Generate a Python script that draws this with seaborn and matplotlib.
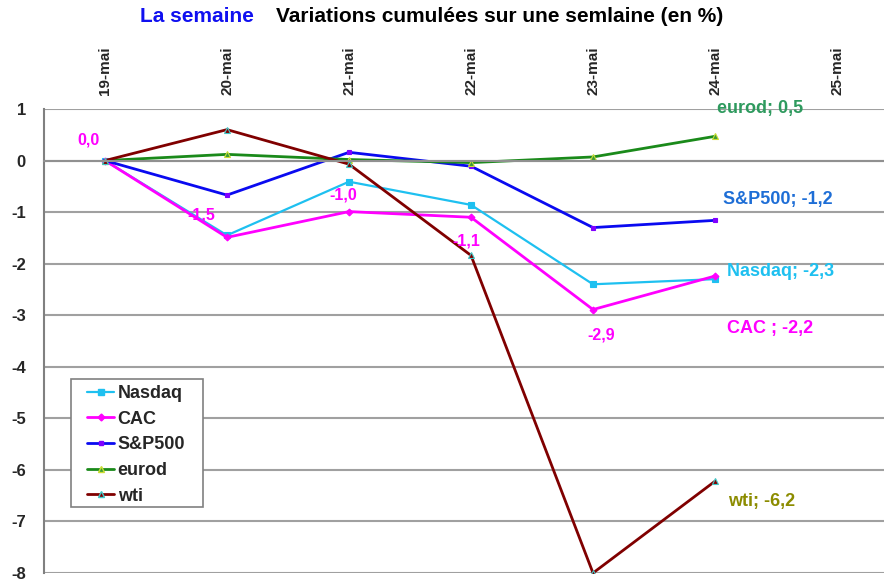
import numpy as np
import pandas as pd
import matplotlib
matplotlib.use("Agg")
import matplotlib.pyplot as plt
import seaborn as sns
from matplotlib.patches import Rectangle

# Data (cumulative % change)
days = ["19-mai", "20-mai", "21-mai", "22-mai", "23-mai", "24-mai", "25-mai"]
nasdaq = [0.0, -1.45, -0.41, -0.86, -2.40, -2.30]
cac = [0.0, -1.49, -0.99, -1.10, -2.89, -2.24]
sp500 = [0.0, -0.67, 0.16, -0.11, -1.30, -1.16]
eurod = [0.0, 0.12, 0.02, -0.04, 0.07, 0.47]
wti = [0.0, 0.60, -0.07, -1.84, -8.0, -6.22]

series = ["Nasdaq", "CAC", "S&P500", "eurod", "wti"]
values = [nasdaq, cac, sp500, eurod, wti]

sns.set_style("white")
plt.rcParams["font.family"] = ["Liberation Sans", "DejaVu Sans"]
plt.rcParams["font.weight"] = "bold"

fig = plt.figure(figsize=(8.84, 5.82), dpi=100)
ax = fig.add_axes([44 / 884, 1 - 573 / 582, 854 / 884, 464 / 582])

styles = {
    "Nasdaq": dict(color="#1EC0F0", marker="s", markersize=5, mfc="#1EC0F0", mec="#1EC0F0", lw=1.6),
    "CAC": dict(color="#FF00FF", marker="D", markersize=3.5, mfc="#FF00FF", mec="#FF00FF", lw=2.0),
    "S&P500": dict(color="#0A0AF0", marker="s", markersize=3.5, mfc="#8000FF", mec="#8000FF", lw=2.0),
    "eurod": dict(color="#1A8A1A", marker="^", markersize=4.5, mfc="#3A9A3A", mec="#CCDD33", lw=2.0),
    "wti": dict(color="#800000", marker="^", markersize=4.5, mfc="#800000", mec="#40C8C8", lw=2.0),
}

rows = []
for name, vals in zip(series, values):
    for i, v in enumerate(vals):
        rows.append({"serie": name, "jour": i, "val": v})
df = pd.DataFrame(rows)

handles = []
for name in series:
    sub = df[df["serie"] == name]
    st = styles[name]
    sns.lineplot(data=sub, x="jour", y="val", ax=ax, color=st["color"], lw=st["lw"],
                 marker=st["marker"], markersize=st["markersize"],
                 markerfacecolor=st["mfc"], markeredgecolor=st["mec"], markeredgewidth=0.8)
    handles.append(plt.Line2D([], [], color=st["color"], lw=st["lw"], marker=st["marker"],
                              markersize=st["markersize"], markerfacecolor=st["mfc"],
                              markeredgecolor=st["mec"]))

ax.set_xlim(-0.5, len(days) - 0.5)
ax.set_ylim(-8, 1)
ax.set_xlabel("")
ax.set_ylabel("")

# grid and axes
ax.set_yticks(np.arange(-8, 2, 1))
ax.yaxis.grid(True, color="#A0A0A0", lw=1.5)
ax.set_axisbelow(True)
for s in ["top", "right"]:
    ax.spines[s].set_visible(False)
ax.spines["left"].set_color("#808080")
ax.spines["left"].set_linewidth(1.5)
ax.spines["bottom"].set_position(("data", 0))
ax.spines["bottom"].set_color("#909090")
ax.spines["bottom"].set_linewidth(1.5)
ax.set_xticks(np.arange(len(days)) + 0.5)
ax.tick_params(axis="x", direction="out", length=3, width=1, color="#606060", labelbottom=False)
ax.tick_params(axis="y", direction="out", length=4, width=1, color="#808080", pad=9,
               labelsize=12)
ax.set_yticklabels([str(t) for t in range(-8, 2)], fontweight="bold")

top = ax.secondary_xaxis("top")
top.set_xticks(np.arange(len(days)))
top.set_xticklabels(days, rotation=90, fontsize=11, fontweight="bold")
top.tick_params(length=0, pad=10)
top.spines["top"].set_visible(False)

# data labels (magenta CAC values)
cac_labels = [(0, "0,0", (-16, 21)), (1, "-1,5", (-26, 22)), (2, "-1,0", (-6, 17)),
              (3, "-1,1", (-5, -24)), (4, "-2,9", (8, -25))]
for i, txt, off in cac_labels:
    ax.annotate(txt, (i, cac[i]), xytext=off, textcoords="offset pixels",
                ha="center", va="center", color="#FF00FF", fontsize=11.5, fontweight="bold")

# series labels at the last point
last = len(nasdaq) - 1
end_labels = [
    ("eurod; 0,5", eurod[last], "#2E9A5E", (45, 28)),
    ("S&P500; -1,2", sp500[last], "#1E6ED6", (63, 21)),
    ("Nasdaq; -2,3", nasdaq[last], "#1EC0F0", (66, 8)),
    ("CAC ; -2,2", cac[last], "#FF00FF", (55, -52)),
    ("wti; -6,2", wti[last], "#8C8C00", (47, -20)),
]
for txt, v, col, off in end_labels:
    ax.annotate(txt, (last, v), xytext=off, textcoords="offset pixels",
                ha="center", va="center", color=col, fontsize=13, fontweight="bold")

# legend: frameless, with its own box drawn around it
leg = ax.legend(handles, series, loc="upper left", bbox_to_anchor=(43 / 854, 1 - 276 / 464),
                frameon=False, fontsize=13, handlelength=1.5,
                handletextpad=0.2, labelspacing=0.48, borderpad=0, borderaxespad=0)
for t in leg.get_texts():
    t.set_fontweight("bold")
ax.add_patch(Rectangle((27 / 854, 1 - 398 / 464), 132 / 854, 128 / 464, transform=ax.transAxes,
                       fill=True, facecolor="white", edgecolor="#808080", lw=1.2, zorder=4))
leg.set_zorder(5)

fig.text(197 / 884, 1 - 17 / 582, "La semaine", color="#1010F0", fontsize=15,
         fontweight="bold", ha="center", va="center")
fig.text(500 / 884, 1 - 17 / 582, "Variations cumulées sur une semlaine (en %)", color="black",
         fontsize=15, fontweight="bold", ha="center", va="center")

fig.savefig("out.png", dpi=100)
